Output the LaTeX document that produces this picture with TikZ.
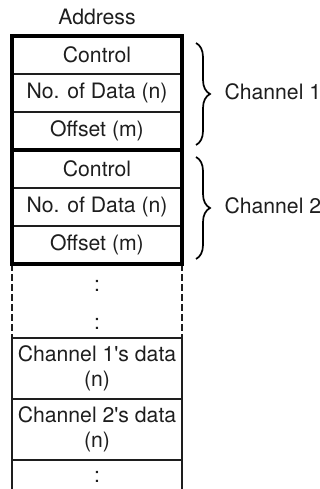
\documentclass[tikz,border=0pt]{standalone}
\usepackage{fontspec}
\setmainfont{TeX Gyre Heros}
\usepackage{xcolor}
\usepackage{tikz}
\usetikzlibrary{positioning,decorations.pathreplacing}

\definecolor{ink}{HTML}{1E1E1E}

\begin{document}
\begin{tikzpicture}[x=1pt, y=-1pt, node distance=0pt,
    cell/.style={draw=ink, line width=1.1pt, minimum width=170pt, minimum height=38pt,
    inner sep=0pt, outer sep=0pt, align=center, text=ink},
    frame/.style={draw=black, line width=4pt},
    gap/.style={draw=ink, line width=1.1pt, dash pattern=on 7pt off 3pt},
    brc/.style={draw=black, line width=1.7pt, decorate, decoration={brace, amplitude=14pt}},
    every node/.style={font=\fontsize{21.2}{25.5}\selectfont, text=ink}]
    \useasboundingbox (0,0) rectangle (320,489);
    \node (addr) at (97,17) {Address};
    % channel 1
    \node[cell, anchor=north] (ctlA) at (97,36) {Control};
    \node[cell, below=of ctlA] (numA) {No. of Data (n)};
    \node[cell, below=of numA] (offA) {Offset (m)};
    % channel 2
    \node[cell, below=of offA] (ctlB) {Control};
    \node[cell, below=of ctlB] (numB) {No. of Data (n)};
    \node[cell, below=of numB] (offB) {Offset (m)};
    % data area
    \node[cell, minimum height=61pt, below=74pt of offB] (datA) {Channel 1\textquotesingle s data\\(n)};
    \node[cell, minimum height=61pt, below=of datA] (datB) {Channel 2\textquotesingle s data\\(n)};
    \node (dotsA) at (97,286) {:};
    \node (dotsB) at (97,324) {:};
    \node (dotsC) at (97,477) {:};
    \draw[gap] (offB.south west) -- (datA.north west);
    \draw[gap] (offB.south east) -- (datA.north east);
    \draw[draw=ink, line width=1.1pt] (datB.south west) -- ++(0,30);
    \draw[draw=ink, line width=1.1pt] (datB.south east) -- ++(0,30);
    % thick frames
    \draw[frame] (ctlA.north west) rectangle (offA.south east);
    \draw[frame] (ctlB.north west) rectangle (offB.south east);
    % braces
    \coordinate (topA) at (196,43);
    \coordinate (botA) at (196,145);
    \coordinate (topB) at (196,157);
    \coordinate (botB) at (196,259);
    \draw[brc] (topA) -- (botA);
    \draw[brc] (topB) -- (botB);
    \node[anchor=west] (chA) at (221,92) {Channel 1};
    \node[anchor=west] (chB) at (221,206) {Channel 2};
\end{tikzpicture}
\end{document}
